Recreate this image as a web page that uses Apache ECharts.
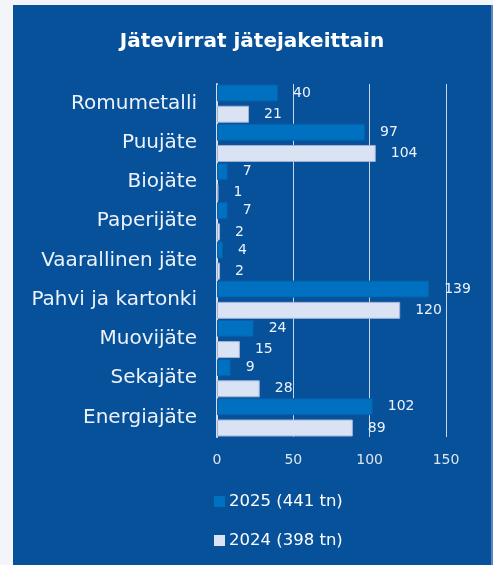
<!DOCTYPE html>
<html>
<head>
    <meta charset="utf-8">
    <title>Jätevirrat jätejakeittain</title>
    <script src="https://cdn.jsdelivr.net/npm/echarts@6/dist/echarts.min.js"></script>
    <style>
        html, body { margin: 0; padding: 0; background: #F4F5F9; }
        #panel { position: absolute; left: 13px; top: 5px; width: 478px; height: 560px;
                 background: #06519A; border-right: 2px solid #5B86C0; }
        #chart { width: 478px; height: 560px; }
    </style>
</head>
<body>
    <div id="panel"><div id="chart"></div></div>
    <script type="text/javascript">
        // data
        var categories = ['Romumetalli', 'Puujäte', 'Biojäte', 'Paperijäte', 'Vaarallinen jäte',
                          'Pahvi ja kartonki', 'Muovijäte', 'Sekajäte', 'Energiajäte'];
        var values2025 = [40, 97, 7, 7, 4, 139, 24, 9, 102];
        var values2024 = [21, 104, 1, 2, 2, 120, 15, 28, 89];
        var seriesNames = ['2025 (441 tn)', '2024 (398 tn)'];
        var xTicks = [0, 50, 100, 150];

        var font = 'DejaVu Sans';
        var myChart = echarts.init(document.getElementById('chart'));

        var labelStyle = {
            show: true, position: 'right', distance: 15,
            color: '#EEF2FA', fontSize: 14, fontFamily: font
        };

        var option = {
            backgroundColor: 'transparent',
            animation: false,
            title: {
                text: 'Jätevirrat jätejakeittain',
                left: 'center', top: 22,
                textStyle: { color: '#FFFFFF', fontSize: 20, fontWeight: 'bold', fontFamily: font }
            },
            grid: { left: 204, right: 45, top: 79, height: 353 },
            legend: {
                orient: 'vertical', left: 196, top: 483,
                icon: 'rect',
                itemWidth: 11, itemHeight: 11, itemGap: 22,
                itemStyle: { borderWidth: 0 },
                textStyle: { color: '#FFFFFF', fontSize: 16.5, fontFamily: font, padding: [0, 0, 0, -1] },
                data: seriesNames
            },
            xAxis: {
                type: 'value', min: xTicks[0], max: xTicks[xTicks.length - 1], interval: 50,
                axisLine: { show: false }, axisTick: { show: false },
                splitLine: { lineStyle: { color: '#C9D5EA', width: 1 } },
                axisLabel: { color: '#DDE5F2', fontSize: 14, fontFamily: font, margin: 16 }
            },
            yAxis: {
                type: 'category', inverse: true, data: categories,
                axisLine: { show: true, lineStyle: { color: '#D5DEEE', width: 2 } },
                axisTick: { show: false },
                axisLabel: { color: '#EEF2FA', fontSize: 20, fontFamily: font, margin: 20 }
            },
            series: [
                {
                    name: seriesNames[0], type: 'bar', data: values2025,
                    barWidth: 17, barGap: '25%',
                    itemStyle: { color: '#0070C0', borderColor: '#0A5FA8', borderWidth: 1 },
                    label: labelStyle
                },
                {
                    name: seriesNames[1], type: 'bar', data: values2024,
                    barWidth: 17,
                    itemStyle: { color: '#DAE3F3', borderColor: '#9FB3D6', borderWidth: 1 },
                    label: labelStyle
                }
            ]
        };

        myChart.setOption(option);
    </script>
</body>
</html>
